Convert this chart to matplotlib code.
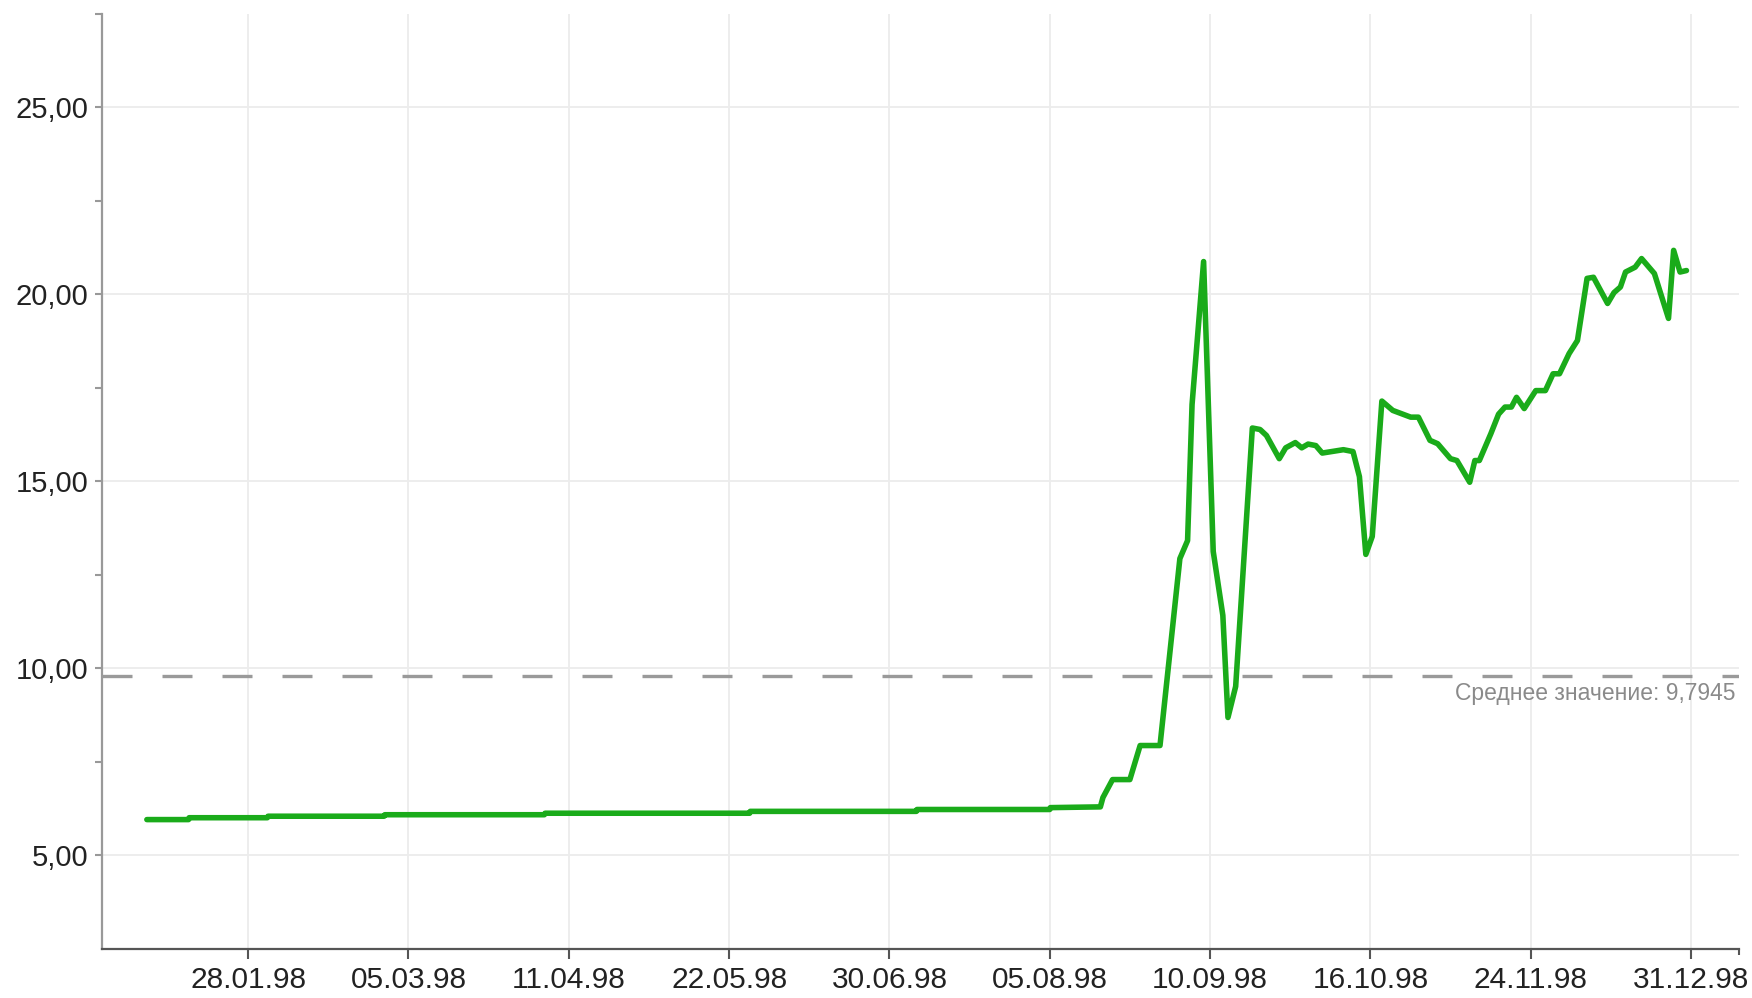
import matplotlib
matplotlib.use("Agg")
import matplotlib.pyplot as plt

# trading-day index (0 = first point) and USD/RUB rate
day_idx = [0.2, 6.7, 6.8, 19.0, 19.1, 37.2, 37.3, 62.2, 62.3, 94.2, 94.3,
           120.2, 120.3, 141.0, 141.1, 148.9, 149.3, 150.8, 153.5, 155.1,
           158.2, 161.3, 162.5, 163.2, 165.0, 166.5, 168.0, 168.8, 170.0,
           172.6, 173.8, 174.8, 176.8, 177.8, 179.3, 180.3, 181.3, 182.5,
           183.5, 186.8, 188.3, 189.3, 190.3, 191.3, 192.8, 194.5, 197.3,
           198.5, 200.3, 201.5, 203.5, 204.5, 206.5, 207.3, 208.0, 209.8,
           211.0, 212.0, 213.0, 213.8, 215.0, 216.8, 218.3, 219.5, 220.5,
           222.0, 223.3, 224.8, 225.8, 228.0, 229.0, 230.0, 230.8, 232.3,
           233.3, 235.3, 237.5, 238.3, 239.3, 240.3]
rate = [5.96, 5.96, 6.01, 6.01, 6.05, 6.05, 6.09, 6.09, 6.13, 6.13, 6.18,
        6.18, 6.23, 6.23, 6.28, 6.30, 6.55, 7.03, 7.03, 7.94,
        7.94, 12.94, 13.42, 17.06, 20.88, 13.13, 11.42, 8.69, 9.52,
        16.43, 16.39, 16.23, 15.61, 15.90, 16.04, 15.90, 16.00, 15.96,
        15.76, 15.85, 15.80, 15.13, 13.05, 13.53, 17.15, 16.90, 16.72,
        16.72, 16.10, 16.01, 15.61, 15.56, 14.98, 15.56, 15.56, 16.28,
        16.80, 16.99, 16.99, 17.25, 16.95, 17.43, 17.43, 17.88, 17.88,
        18.42, 18.77, 20.43, 20.46, 19.76, 20.05, 20.20, 20.60, 20.73,
        20.96, 20.56, 19.36, 21.18, 20.60, 20.64]
tick_pos = [16, 41, 66, 91, 116, 141, 166, 191, 216, 241]
tick_labels = ["28.01.98", "05.03.98", "11.04.98", "22.05.98", "30.06.98",
               "05.08.98", "10.09.98", "16.10.98", "24.11.98", "31.12.98"]
y_ticks = [5, 10, 15, 20, 25]
mean_value = 9.7945

plt.rcParams["font.family"] = ["Liberation Sans", "DejaVu Sans"]

fig = plt.figure(figsize=(17.52, 9.98), dpi=100)
ax = fig.add_axes([0.0582, 0.0491, 0.9344, 0.9369])

ax.plot(day_idx, rate, color="#1aab1a", lw=4.0, solid_joinstyle="round",
        solid_capstyle="round", zorder=3)
ax.axhline(mean_value, color="#9a9a9a", lw=2.4, linestyle=(0, (9, 9)), zorder=2)
ax.text(248.0, 9.17, "Среднее значение: " + f"{mean_value:.4f}".replace(".", ","),
        ha="right", va="baseline", fontsize=16.5, color="#8a8a8a")

ax.set_xlim(-6.8, 248.5)
ax.set_ylim(2.5, 27.5)
ax.set_xticks(tick_pos)
ax.set_xticklabels(tick_labels)
ax.set_xticks([248.5], minor=True)
ax.set_yticks(y_ticks)
ax.set_yticklabels([f"{v:.2f}".replace(".", ",") for v in y_ticks])
ax.set_yticks([7.5, 12.5, 17.5, 22.5, 27.5], minor=True)

ax.grid(True, which="major", color="#ececec", lw=1.3, zorder=0)
ax.tick_params(axis="x", which="major", length=7, width=1.5, color="#555555",
               labelsize=21.5, labelcolor="#222222", pad=5)
ax.tick_params(axis="x", which="minor", length=4, width=1.5, color="#555555")
ax.tick_params(axis="y", which="both", length=5, width=1.5, color="#999999",
               labelsize=21, labelcolor="#222222", pad=5)

for side in ["top", "right"]:
    ax.spines[side].set_visible(False)
ax.spines["left"].set_color("#999999")
ax.spines["left"].set_linewidth(1.6)
ax.spines["bottom"].set_color("#555555")
ax.spines["bottom"].set_linewidth(1.6)

fig.savefig("out.png", dpi=100)
